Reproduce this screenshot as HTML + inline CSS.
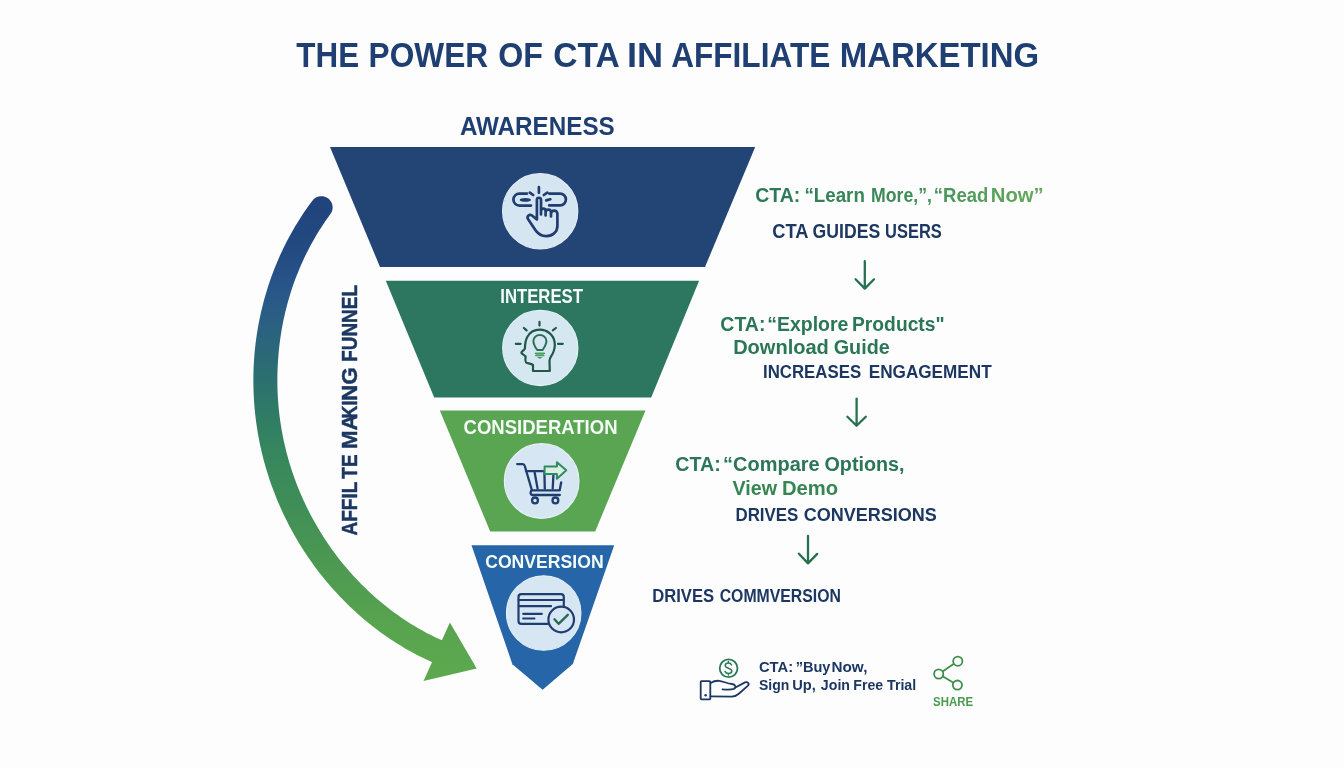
<!DOCTYPE html>
<html><head><meta charset="utf-8"><title>The Power of CTA in Affiliate Marketing</title>
<style>
html,body{margin:0;padding:0;background:#fdfdfd;}
body{width:1344px;height:768px;overflow:hidden;position:relative;font-family:"Liberation Sans",sans-serif;}
svg{position:absolute;left:0;top:0;display:block;will-change:transform;}
text{font-family:"Liberation Sans",sans-serif;font-weight:bold;}
</style></head>
<body>
<svg width="1344" height="768" viewBox="0 0 1344 768">
<defs>
<linearGradient id="ag" x1="0" y1="195" x2="0" y2="690" gradientUnits="userSpaceOnUse">
<stop offset="0" stop-color="#21427b"/>
<stop offset="0.111" stop-color="#234a82"/>
<stop offset="0.192" stop-color="#285689"/>
<stop offset="0.273" stop-color="#2b6280"/>
<stop offset="0.354" stop-color="#2c6d72"/>
<stop offset="0.434" stop-color="#2e7a66"/>
<stop offset="0.515" stop-color="#36865e"/>
<stop offset="0.616" stop-color="#3e8d58"/>
<stop offset="0.737" stop-color="#4b9852"/>
<stop offset="0.859" stop-color="#58a34f"/>
<stop offset="1" stop-color="#5eaa4f"/>
</linearGradient>
<linearGradient id="tg1" x1="756" y1="0" x2="1042" y2="0" gradientUnits="userSpaceOnUse">
<stop offset="0" stop-color="#2b7757"/>
<stop offset="0.5" stop-color="#3f8c59"/>
<stop offset="1" stop-color="#66aa5c"/>
</linearGradient>
</defs>
<rect width="1344" height="768" fill="#fdfdfd"/>

<!-- big curved arrow -->
<path d="M312.37,200.66 L313.37,199.50 L314.52,198.48 L315.79,197.62 L317.17,196.95 L318.63,196.48 L320.14,196.20 L321.68,196.14 L323.21,196.28 L324.70,196.63 L326.14,197.18 L327.48,197.92 L328.71,198.84 L329.81,199.91 L330.75,201.13 L331.51,202.46 L332.08,203.89 L332.46,205.37 L332.63,206.90 L332.59,208.43 L332.34,209.95 L331.89,211.42 L331.25,212.81 L330.41,214.10 L330.41,214.10 L328.51,216.72 L326.64,219.36 L324.80,222.02 L323.00,224.70 L321.23,227.40 L319.50,230.12 L317.81,232.86 L316.14,235.61 L314.52,238.38 L312.93,241.17 L311.37,243.98 L309.85,246.80 L308.37,249.64 L306.91,252.49 L305.50,255.36 L304.12,258.24 L302.77,261.14 L301.46,264.06 L300.19,266.98 L298.94,269.92 L297.74,272.88 L296.57,275.84 L295.43,278.82 L294.33,281.81 L293.26,284.81 L292.23,287.83 L291.24,290.85 L290.27,293.89 L289.35,296.93 L288.46,299.99 L287.60,303.05 L286.78,306.13 L285.99,309.21 L285.24,312.30 L284.52,315.40 L283.84,318.50 L283.19,321.62 L282.58,324.73 L282.00,327.86 L281.46,330.99 L280.95,334.13 L280.48,337.27 L280.04,340.42 L279.63,343.57 L279.26,346.73 L278.93,349.89 L278.63,353.05 L278.36,356.21 L278.11,359.38 L277.90,362.55 L277.73,365.72 L277.59,368.89 L277.48,372.07 L277.41,375.24 L277.37,378.42 L277.37,381.59 L277.40,384.77 L277.47,387.94 L277.57,391.11 L277.70,394.29 L277.87,397.46 L278.08,400.62 L278.32,403.79 L278.59,406.95 L278.90,410.11 L279.25,413.26 L279.63,416.41 L280.04,419.56 L280.49,422.70 L280.97,425.84 L281.48,428.97 L282.04,432.09 L282.62,435.21 L283.24,438.32 L283.90,441.42 L284.58,444.52 L285.31,447.60 L286.07,450.68 L286.86,453.75 L287.68,456.82 L288.54,459.87 L289.44,462.91 L290.37,465.95 L291.33,468.97 L292.32,471.99 L293.35,474.99 L294.41,477.99 L295.50,480.97 L296.63,483.94 L297.79,486.90 L298.98,489.84 L300.20,492.77 L301.46,495.69 L302.74,498.60 L304.06,501.49 L305.41,504.37 L306.79,507.23 L308.20,510.08 L309.64,512.92 L311.12,515.73 L312.62,518.54 L314.15,521.32 L315.72,524.09 L317.31,526.84 L318.94,529.58 L320.59,532.29 L322.27,534.99 L323.98,537.67 L325.72,540.33 L327.49,542.98 L329.29,545.60 L331.11,548.20 L332.97,550.79 L334.85,553.35 L336.76,555.89 L338.70,558.41 L340.66,560.91 L342.65,563.39 L344.67,565.84 L346.72,568.27 L348.79,570.68 L350.89,573.07 L353.02,575.43 L355.17,577.77 L357.35,580.08 L359.55,582.37 L361.78,584.63 L364.04,586.87 L366.32,589.09 L368.62,591.27 L370.95,593.43 L373.30,595.57 L375.68,597.68 L378.08,599.76 L380.51,601.81 L382.96,603.83 L385.44,605.83 L387.93,607.79 L390.46,609.73 L393.00,611.64 L395.57,613.52 L398.16,615.37 L400.77,617.19 L403.40,618.98 L406.06,620.73 L408.74,622.46 L411.44,624.15 L414.16,625.81 L416.91,627.44 L419.67,629.04 L422.46,630.61 L425.27,632.14 L428.10,633.63 L430.95,635.10 L433.82,636.53 L436.71,637.92 L439.62,639.28 L442.55,640.61 L445.50,641.90 L436.02,663.95 L432.80,662.54 L429.59,661.09 L426.41,659.60 L423.25,658.08 L420.11,656.51 L417.00,654.91 L413.91,653.28 L410.84,651.61 L407.80,649.90 L404.78,648.15 L401.78,646.37 L398.81,644.56 L395.87,642.71 L392.94,640.83 L390.05,638.92 L387.18,636.97 L384.33,634.98 L381.51,632.97 L378.71,630.92 L375.94,628.85 L373.20,626.74 L370.48,624.60 L367.79,622.42 L365.12,620.22 L362.48,617.99 L359.87,615.73 L357.29,613.44 L354.73,611.12 L352.20,608.78 L349.70,606.40 L347.22,604.00 L344.77,601.57 L342.36,599.11 L339.96,596.63 L337.60,594.12 L335.27,591.58 L332.96,589.02 L330.69,586.44 L328.44,583.82 L326.22,581.19 L324.04,578.53 L321.88,575.85 L319.75,573.14 L317.65,570.41 L315.59,567.66 L313.55,564.89 L311.54,562.09 L309.56,559.27 L307.62,556.44 L305.71,553.58 L303.82,550.70 L301.97,547.80 L300.15,544.88 L298.36,541.94 L296.61,538.98 L294.88,536.00 L293.19,533.01 L291.53,530.00 L289.91,526.97 L288.32,523.92 L286.76,520.85 L285.23,517.77 L283.74,514.68 L282.28,511.56 L280.85,508.43 L279.46,505.29 L278.10,502.13 L276.78,498.96 L275.49,495.77 L274.24,492.57 L273.02,489.35 L271.83,486.13 L270.68,482.89 L269.57,479.63 L268.50,476.37 L267.45,473.09 L266.45,469.80 L265.48,466.51 L264.55,463.20 L263.65,459.88 L262.79,456.55 L261.97,453.21 L261.19,449.86 L260.44,446.50 L259.73,443.14 L259.06,439.77 L258.42,436.39 L257.83,433.01 L257.27,429.61 L256.75,426.22 L256.26,422.81 L255.81,419.41 L255.40,415.99 L255.03,412.58 L254.70,409.16 L254.40,405.73 L254.14,402.31 L253.92,398.88 L253.73,395.45 L253.58,392.01 L253.47,388.58 L253.40,385.14 L253.37,381.70 L253.37,378.27 L253.41,374.83 L253.49,371.39 L253.60,367.95 L253.76,364.52 L253.95,361.09 L254.18,357.65 L254.44,354.23 L254.75,350.80 L255.11,347.38 L255.50,343.96 L255.94,340.55 L256.41,337.14 L256.91,333.74 L257.46,330.34 L258.04,326.95 L258.66,323.56 L259.32,320.18 L260.02,316.81 L260.75,313.44 L261.52,310.09 L262.33,306.74 L263.18,303.40 L264.06,300.07 L264.98,296.75 L265.94,293.44 L266.94,290.13 L267.97,286.84 L269.05,283.56 L270.16,280.29 L271.31,277.04 L272.50,273.79 L273.72,270.56 L274.98,267.34 L276.28,264.14 L277.62,260.95 L279.00,257.77 L280.41,254.61 L281.87,251.46 L283.36,248.33 L284.88,245.21 L286.45,242.11 L288.05,239.03 L289.70,235.96 L291.38,232.92 L293.10,229.89 L294.85,226.87 L296.65,223.88 L298.48,220.91 L300.35,217.95 L302.26,215.02 L304.20,212.10 L306.19,209.21 L308.21,206.34 L310.27,203.49 L312.37,200.66 Z" fill="url(#ag)"/>
<path d="M449.9,622.5 L476.7,668.5 L423.5,681.1 Z" fill="url(#ag)"/>

<!-- funnel -->
<polygon points="330,147 755.2,147 705,267 380,267" fill="#224575"/>
<polygon points="385.8,280.7 699.1,280.7 651.2,397.4 434.2,397.4" fill="#2d7761"/>
<polygon points="439.8,410.4 645.5,410.4 595.2,531.4 490.2,531.4" fill="#5aa552"/>
<polygon points="471.5,545.2 614.2,545.2 572.8,663.9 542.6,689.8 512.4,664.3" fill="#2565a8"/>

<!-- circles -->
<circle cx="540.2" cy="211.3" r="37.6" fill="#d5e5f1" stroke="#e1eef8" stroke-width="1.2"/>
<circle cx="540.3" cy="348" r="37.6" fill="#d5e8f1" stroke="#e0f0f6" stroke-width="1.2"/>
<circle cx="541.7" cy="481" r="37.3" fill="#d6e6f3" stroke="#e4f2f4" stroke-width="1.2"/>
<circle cx="543.7" cy="613" r="37.2" fill="#d6e6f3" stroke="#e2eff8" stroke-width="1.2"/>

<!-- awareness icon: link + hand -->
<g fill="none" stroke="#1f3d6e" stroke-width="2.7" stroke-linecap="round" stroke-linejoin="round">
<path d="M527,193.6 L519.4,193.6 A6,6 0 0 0 519.4,205.6 L531,205.6"/>
<path d="M549.2,193.6 L560,193.6 A5.9,5.9 0 0 1 560,205.4 L549.2,205.4"/>
<path d="M538.9,187.2 L538.9,192.8 M529.8,192.6 L533.2,195 M543.8,195 L547.3,192.6 M546.2,200.4 L550.3,199.3"/>
<path d="M536.9,219.5 L536.9,199.8 A2.05,2.05 0 0 1 541,199.8 L541,214.5 M541,211 A2.3,2.3 0 0 1 545.6,211 L545.6,215.5 M545.6,212.3 A2.7,2.7 0 0 1 551,212.3 L551,216.5 M551,213.8 A2.9,2.9 0 0 1 557.4,213.8 L557.4,226 C557.4,232 552.5,236.2 546.5,236.2 C541,236.2 537.5,233.5 535,229.5 L528,219 C526.5,216.5 529.5,213.5 532,215.5 L536.9,219.5"/>
</g>
<ellipse cx="525.3" cy="199.9" rx="5.6" ry="1.9" fill="#1f3d6e"/>

<!-- interest icon: head + bulb -->
<g fill="none" stroke="#20574a" stroke-width="2.2" stroke-linecap="round" stroke-linejoin="round">
<path d="M539.5,321.8 L539.5,325.6 M515.8,343.8 L520.6,343.8 M558,343.8 L562.8,343.8 M523.9,328 L526.6,330.4 M552.8,330.4 L555.9,328"/>
<path d="M533,371 L533,365 C531,363.5 528,363.5 526.5,362.8 C525,362 525.3,359 525.6,356.5 C524.5,355 521.5,354 521.4,352.8 C521.5,351.5 524.5,350 524.9,348.5 C525,345 525.2,341 527,337.5 C529.5,332.5 534.5,329.7 540,329.7 C547,329.7 553.5,334.5 554.6,342 C555.4,347 554,351 552.5,354 C550.8,357 549.3,358.5 549.5,361 L549.8,371 Z"/>
</g>
<path d="M537.2,350 C535,347 533.4,344.5 533.4,341 C533.4,337.5 536.3,335 539.8,335 C543.3,335 546.4,337.5 546.4,341 C546.4,344.5 544.6,347 542.6,350 Z" fill="none" stroke="#2e6f58" stroke-width="2" stroke-linejoin="round"/>
<path d="M535.6,353.3 L544.2,353.3 M536,355.4 L543.6,355.4" fill="none" stroke="#4f9c66" stroke-width="1.8" stroke-linecap="round"/>
<path d="M536.8,357 L542.8,357 L539.8,358.8 Z" fill="#3f8a5e"/>

<!-- consideration icon: cart + arrow -->
<g fill="none" stroke="#1f3d6e" stroke-width="2.3" stroke-linecap="round" stroke-linejoin="round">
<path d="M517.2,464.1 L522.8,464.1 C523.8,464.1 524.5,465 524.8,466 L531.9,490.3 L559.7,490.3 L561.2,482.3"/>
<path d="M525.9,471.1 L543.2,471.1"/>
<path d="M534.7,472.7 L537.6,488.6 M544.4,472.7 L544.8,488.6 M553.4,475.4 L552.7,488.6"/>
<path d="M531.9,490.3 C530.2,491 530,494.8 532.2,495 L559.8,495"/>
<circle cx="535" cy="500.4" r="2.9"/>
<circle cx="555.4" cy="500.4" r="2.9"/>
</g>
<path d="M544.6,466.6 L556.9,466.6 L556.9,462.3 L566.3,470.2 L556.9,478.8 L556.9,474 L544.6,474 Z" fill="#d9efe4" stroke="#2f8a62" stroke-width="2" stroke-linejoin="round"/>

<!-- conversion icon: card + check -->
<g fill="none" stroke="#1f3d6e" stroke-width="2.2" stroke-linecap="round" stroke-linejoin="round">
<path d="M551,623.8 L521.2,623.8 C519.5,623.8 518.5,622.8 518.5,621 L518.5,597 C518.5,595 519.5,594.2 521.5,594.2 L561,594.2 C563,594.2 563.8,595.2 563.8,597 L563.8,605.5"/>
<path d="M518.8,600 L563.5,600 M518.8,606.2 L551,606.2"/>
<path d="M523.2,613.8 L541.8,613.8 M523.2,618.5 L534.4,618.5"/>
</g>
<circle cx="561.2" cy="619.5" r="12.8" fill="#d6e6f4" stroke="#1f3d6e" stroke-width="2.2"/>
<path d="M554.5,619.3 L558.6,623.8 L567.8,614.8" fill="none" stroke="#2a6a50" stroke-width="2.4" stroke-linecap="round" stroke-linejoin="round"/>

<!-- small down arrows -->
<g fill="none" stroke="#27714f" stroke-width="2.3" stroke-linecap="round" stroke-linejoin="round">
<path d="M864.8,261.2 L864.8,288.6 M855.6,279.2 L864.8,288.6 L874,279.2"/>
<path d="M856.6,398.6 L856.6,425.8 M847.4,416.8 L856.6,425.8 L865.8,416.8"/>
<path d="M808,535.8 L808,563.4 M798.9,553.7 L808,563.4 L817.2,553.9"/>
</g>

<!-- hand with coin -->
<circle cx="728.6" cy="668.3" r="8.9" fill="none" stroke="#2b7a57" stroke-width="1.8"/>
<path d="M731.6,665 C731,663.6 729.8,663 728.4,663 C726.6,663 725.2,664 725.2,665.6 C725.2,669 731.8,667.4 731.8,671 C731.8,672.6 730.3,673.5 728.4,673.5 C726.8,673.5 725.6,672.8 725,671.4 M728.4,661.5 L728.4,663 M728.4,673.5 L728.4,675" fill="none" stroke="#2b7a57" stroke-width="1.5" stroke-linecap="round"/>
<g fill="none" stroke="#1c3862" stroke-width="1.8" stroke-linecap="round" stroke-linejoin="round">
<rect x="700.7" y="681.2" width="9.6" height="18.2" rx="0.8"/>
<path d="M710.6,683 C713,681.5 716,680.6 719,680.8 C723,681.2 727,683.5 732,684 C735.5,684.3 736.5,687.5 734,688.8 C731,689.8 726,689.6 722.5,689.3 M734.5,688 L745,682.4 C747.5,681.3 749.8,683.6 748,685.6 L738.5,694 C736.5,695.8 734.5,696.6 731.5,696.6 L710.6,696.4"/>
</g>
<circle cx="705.6" cy="695.2" r="1.25" fill="#1c3862"/>

<!-- share icon -->
<g fill="none" stroke="#3e8f4c" stroke-width="1.8">
<circle cx="957.8" cy="661.2" r="4.6"/>
<circle cx="938.7" cy="674" r="4.6"/>
<circle cx="957.4" cy="685.1" r="4.6"/>
<path d="M942.6,671.4 L953.9,663.8 M942.6,676.3 L953.5,682.8"/>
</g>

<text id="t1" x="296.30" y="66.90" font-size="34.74" fill="#1f3f73" textLength="62.79" lengthAdjust="spacingAndGlyphs">THE</text>
<text id="t2" x="368.58" y="66.90" font-size="34.74" fill="#1f3f73" textLength="119.61" lengthAdjust="spacingAndGlyphs">POWER</text>
<text id="t3" x="498.15" y="66.90" font-size="34.74" fill="#1f3f73" textLength="44.71" lengthAdjust="spacingAndGlyphs">OF</text>
<text id="t4" x="553.34" y="66.90" font-size="34.74" fill="#1f3f73" textLength="66.48" lengthAdjust="spacingAndGlyphs">CTA</text>
<text id="t5" x="627.09" y="66.90" font-size="34.74" fill="#1f3f73" textLength="36.13" lengthAdjust="spacingAndGlyphs">IN</text>
<text id="t6" x="671.22" y="66.90" font-size="34.74" fill="#1f3f73" textLength="159.01" lengthAdjust="spacingAndGlyphs">AFFILIATE</text>
<text id="t7" x="839.73" y="66.90" font-size="34.74" fill="#1f3f73" textLength="199.42" lengthAdjust="spacingAndGlyphs">MARKETING</text>
<text id="aw" x="459.90" y="135.10" font-size="25.87" fill="#1f3f73" textLength="154.89" lengthAdjust="spacingAndGlyphs">AWARENESS</text>
<text id="int" x="500.24" y="302.90" font-size="20.20" fill="#f4fbf8" textLength="82.70" lengthAdjust="spacingAndGlyphs">INTEREST</text>
<text id="cons" x="463.61" y="434.10" font-size="20.78" fill="#f4fbf8" textLength="153.91" lengthAdjust="spacingAndGlyphs">CONSIDERATION</text>
<text id="conv" x="485.17" y="568.40" font-size="19.19" fill="#f4fbf8" textLength="118.47" lengthAdjust="spacingAndGlyphs">CONVERSION</text>
<text id="c1a" x="755.24" y="201.80" font-size="20.20" fill="url(#tg1)" textLength="45.08" lengthAdjust="spacingAndGlyphs">CTA:</text>
<text id="c1b" x="804.44" y="201.80" font-size="20.20" fill="url(#tg1)" textLength="60.42" lengthAdjust="spacingAndGlyphs">“Learn</text>
<text id="c1c" x="871.01" y="201.80" font-size="20.20" fill="url(#tg1)" textLength="60.94" lengthAdjust="spacingAndGlyphs">More,”,</text>
<text id="c1d" x="933.81" y="201.80" font-size="20.20" fill="url(#tg1)" textLength="54.54" lengthAdjust="spacingAndGlyphs">“Read</text>
<text id="c1e" x="990.72" y="201.80" font-size="20.20" fill="url(#tg1)" textLength="53.01" lengthAdjust="spacingAndGlyphs">Now”</text>
<text id="g1a" x="772.32" y="237.50" font-size="20.06" fill="#1c3862" textLength="36.25" lengthAdjust="spacingAndGlyphs">CTA</text>
<text id="g1b" x="812.62" y="237.50" font-size="20.06" fill="#1c3862" textLength="67.54" lengthAdjust="spacingAndGlyphs">GUIDES</text>
<text id="g1c" x="885.12" y="237.50" font-size="20.06" fill="#1c3862" textLength="56.65" lengthAdjust="spacingAndGlyphs">USERS</text>
<text id="c2a" x="720.33" y="330.50" font-size="19.77" fill="#2a7656" textLength="45.13" lengthAdjust="spacingAndGlyphs">CTA:</text>
<text id="c2b" x="767.22" y="330.50" font-size="19.77" fill="#2a7656" textLength="81.19" lengthAdjust="spacingAndGlyphs">“Explore</text>
<text id="c2c" x="852.00" y="330.50" font-size="19.77" fill="#2a7656" textLength="92.63" lengthAdjust="spacingAndGlyphs">Products"</text>
<text id="c2d" x="733.15" y="353.60" font-size="20.49" fill="#2a7656" textLength="95.67" lengthAdjust="spacingAndGlyphs">Download</text>
<text id="c2e" x="833.73" y="353.60" font-size="20.49" fill="#2a7656" textLength="55.98" lengthAdjust="spacingAndGlyphs">Guide</text>
<text id="g2a" x="763.01" y="378.40" font-size="18.90" fill="#1c3862" textLength="98.09" lengthAdjust="spacingAndGlyphs">INCREASES</text>
<text id="g2b" x="868.70" y="378.40" font-size="18.90" fill="#1c3862" textLength="122.99" lengthAdjust="spacingAndGlyphs">ENGAGEMENT</text>
<text id="c3a" x="675.31" y="471.30" font-size="19.77" fill="#2a7656" textLength="45.41" lengthAdjust="spacingAndGlyphs">CTA:</text>
<text id="c3b" x="723.14" y="471.30" font-size="19.77" fill="#2a7656" textLength="96.50" lengthAdjust="spacingAndGlyphs">“Compare</text>
<text id="c3c" x="824.47" y="471.30" font-size="19.77" fill="#2a7656" textLength="80.06" lengthAdjust="spacingAndGlyphs">Options,</text>
<text id="c3d" x="732.55" y="495.00" font-size="19.77" fill="#368553" textLength="44.46" lengthAdjust="spacingAndGlyphs">View</text>
<text id="c3e" x="781.99" y="495.00" font-size="19.77" fill="#368553" textLength="56.21" lengthAdjust="spacingAndGlyphs">Demo</text>
<text id="g3a" x="735.45" y="521.40" font-size="18.90" fill="#1c3862" textLength="62.90" lengthAdjust="spacingAndGlyphs">DRIVES</text>
<text id="g3b" x="803.66" y="521.40" font-size="18.90" fill="#1c3862" textLength="133.17" lengthAdjust="spacingAndGlyphs">CONVERSIONS</text>
<text id="g4a" x="652.22" y="601.70" font-size="17.88" fill="#1c3862" textLength="61.86" lengthAdjust="spacingAndGlyphs">DRIVES</text>
<text id="g4b" x="719.69" y="601.70" font-size="17.88" fill="#1c3862" textLength="121.29" lengthAdjust="spacingAndGlyphs">COMMVERSION</text>
<text id="c4a" x="758.96" y="672.40" font-size="14.53" fill="#1c3862" textLength="34.14" lengthAdjust="spacingAndGlyphs">CTA:</text>
<text id="c4b" x="795.70" y="672.40" font-size="14.53" fill="#1c3862" textLength="34.74" lengthAdjust="spacingAndGlyphs">”Buy</text>
<text id="c4c" x="831.50" y="672.40" font-size="14.53" fill="#1c3862" textLength="35.93" lengthAdjust="spacingAndGlyphs">Now,</text>
<text id="c4d" x="758.93" y="689.50" font-size="14.97" fill="#1c3862" textLength="30.30" lengthAdjust="spacingAndGlyphs">Sign</text>
<text id="c4e" x="792.28" y="689.50" font-size="14.97" fill="#1c3862" textLength="23.61" lengthAdjust="spacingAndGlyphs">Up,</text>
<text id="c4f" x="820.86" y="689.50" font-size="14.97" fill="#1c3862" textLength="29.16" lengthAdjust="spacingAndGlyphs">Join</text>
<text id="c4g" x="853.29" y="689.50" font-size="14.97" fill="#1c3862" textLength="29.92" lengthAdjust="spacingAndGlyphs">Free</text>
<text id="c4h" x="887.00" y="689.50" font-size="14.97" fill="#1c3862" textLength="29.23" lengthAdjust="spacingAndGlyphs">Trial</text>
<text id="share" x="933.08" y="706.30" font-size="12.21" fill="#4a9a4f" textLength="40.04" lengthAdjust="spacingAndGlyphs">SHARE</text>
<text id="v1" transform="rotate(-90 356.57 535.41)" x="356.57" y="535.41" font-size="21.22" fill="#1c3862" textLength="53.74" lengthAdjust="spacingAndGlyphs" stroke="#1c3862" stroke-width="0.45">AFFIL</text>
<text id="v2" transform="rotate(-90 356.57 478.69)" x="356.57" y="478.69" font-size="21.22" fill="#1c3862" textLength="24.24" lengthAdjust="spacingAndGlyphs" stroke="#1c3862" stroke-width="0.45">TE</text>
<text id="v3" transform="rotate(-90 356.57 449.05)" x="356.57" y="449.05" font-size="21.22" fill="#1c3862" textLength="34.75" lengthAdjust="spacingAndGlyphs" stroke="#1c3862" stroke-width="0.45">MA</text>
<text id="v5" transform="rotate(-90 356.57 418.41)" x="356.57" y="418.41" font-size="21.22" fill="#1c3862" textLength="17.83" lengthAdjust="spacingAndGlyphs" stroke="#1c3862" stroke-width="0.45">KI</text>
<text id="v6" transform="rotate(-90 356.57 401.07)" x="356.57" y="401.07" font-size="21.22" fill="#1c3862" textLength="33.74" lengthAdjust="spacingAndGlyphs" stroke="#1c3862" stroke-width="0.45">NG</text>
<text id="v4" transform="rotate(-90 356.57 361.74)" x="356.57" y="361.74" font-size="21.22" fill="#1c3862" textLength="76.68" lengthAdjust="spacingAndGlyphs" stroke="#1c3862" stroke-width="0.45">FUNNEL</text>
</svg>
</body></html>
